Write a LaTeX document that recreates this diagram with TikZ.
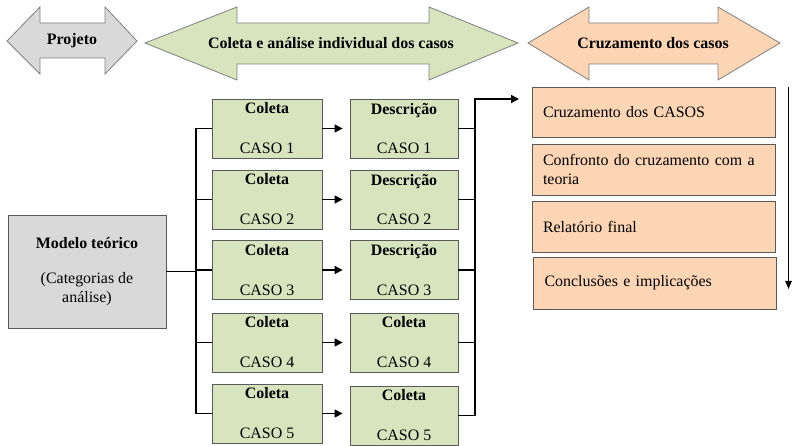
\documentclass[tikz,border=0pt]{standalone}
\usepackage{fontspec}
\setmainfont{Liberation Serif}
\usetikzlibrary{arrows.meta}
\definecolor{gfill}{HTML}{D9D9D9}
\definecolor{greenfill}{HTML}{D7E4BD}
\definecolor{orangefill}{HTML}{FCD5B5}
\definecolor{edgecol}{HTML}{595959}
\definecolor{arrowedge}{HTML}{7F7F7F}
\tikzset{
  bigarrow/.style={draw=arrowedge, line width=0.8bp, line join=miter},
  toptext/.style={font=\fontsize{16}{19}\selectfont\bfseries, inner sep=0pt},
  casebox/.style={draw=edgecol, line width=0.8bp, fill=greenfill, minimum height=59bp, align=center, inner sep=0pt, font=\fontsize{16}{19}\selectfont},
  colbox/.style={casebox, minimum width=110bp},
  descbox/.style={casebox, minimum width=108bp},
  modelbox/.style={draw=edgecol, line width=0.8bp, fill=gfill, minimum width=158bp, minimum height=113bp, align=center, inner sep=0pt, font=\fontsize{16}{18.5}\selectfont},
  crossbox/.style={draw=edgecol, line width=0.8bp, fill=orangefill, text width=221bp, inner xsep=11bp, inner ysep=0pt, align=left, font=\fontsize{16}{20}\selectfont},
  conn/.style={line width=1.3bp, black},
  arr/.style={conn, -{Triangle[length=8bp,width=8bp]}}
}
\begin{document}
\begin{tikzpicture}[x=1bp,y=-1bp]
\useasboundingbox (0,0) rectangle (792,446);
% top double arrows
\draw[bigarrow, fill=gfill] (7,41) -- (40,7) -- (40,23) -- (105,23) -- (105,7) -- (137,41) -- (105,74) -- (105,58) -- (40,58) -- (40,74) -- cycle;
\node[toptext] (projeto) at (72,41) {Projeto};
\draw[bigarrow, fill=greenfill] (145,43) -- (237,7) -- (237,23) -- (429,23) -- (429,7) -- (518,43) -- (429,80) -- (429,64) -- (237,64) -- (237,80) -- cycle;
\node[toptext] (coletaanalise) at (331,43) {Coleta e análise individual dos casos};
\draw[bigarrow, fill=orangefill] (528,43) -- (589,7) -- (589,23) -- (718,23) -- (718,7) -- (780,43) -- (718,80) -- (718,64) -- (589,64) -- (589,80) -- cycle;
\node[toptext] (cruzamento) at (653,43) {Cruzamento dos casos};
% model box
\node[modelbox] (modelo) at (87,271.5) {\textbf{Modelo teórico}\\[17bp](Categorias de\\análise)};
% coleta boxes
\node[colbox] (c1) at (267,128.5) {\textbf{Coleta}\\[21bp]CASO 1};
\node[colbox] (c2) at (267,199.5) {\textbf{Coleta}\\[21bp]CASO 2};
\node[colbox] (c3) at (267,270) {\textbf{Coleta}\\[21bp]CASO 3};
\node[colbox] (c4) at (267,342.5) {\textbf{Coleta}\\[21bp]CASO 4};
\node[colbox] (c5) at (267,413.5) {\textbf{Coleta}\\[21bp]CASO 5};
% description boxes
\node[descbox] (d1) at (404,128.5) {\textbf{Descrição}\\[21bp]CASO 1};
\node[descbox] (d2) at (404,199.5) {\textbf{Descrição}\\[21bp]CASO 2};
\node[descbox] (d3) at (404,270) {\textbf{Descrição}\\[21bp]CASO 3};
\node[descbox] (d4) at (404,342.5) {\textbf{Coleta}\\[21bp]CASO 4};
\node[descbox] (d5) at (404,415.5) {\textbf{Coleta}\\[21bp]CASO 5};
% cross-case boxes
\node[crossbox, minimum height=50bp] (x1) at (653.5,112) {Cruzamento dos CASOS};
\node[crossbox, minimum height=51bp] (x2) at (653.5,169.5) {Confronto do cruzamento com a\\teoria};
\node[crossbox, minimum height=51bp] (x3) at (653.5,226.5) {Relatório final};
\node[crossbox, minimum height=52bp] (x4) at (655,283) {Conclusões e implicações};
% connectors
\coordinate (trunkL) at (196,0);
\coordinate (trunkR) at (475,0);
\coordinate (toparr) at (519,99);
\coordinate (vtop) at (788.5,87);
\coordinate (vbot) at (788.5,289);
\draw[conn] (modelo.east) -- (modelo.east -| trunkL);
\draw[conn] (c1.west) -- (c1.west -| trunkL) -- (c5.west -| trunkL) -- (c5.west);
\foreach \i in {2,3,4} {\draw[conn] (c\i.west) -- (c\i.west -| trunkL);}
\foreach \i in {1,2,3,4,5} {\draw[arr, shorten >=7bp] (c\i.east) -- (c\i.east -| d\i.west);}
\foreach \i in {1,2,3,4} {\draw[conn] (d\i.east) -- (d\i.east -| trunkR);}
\draw[arr] (d5.east) -- (d5.east -| trunkR) |- (toparr);
\draw[line width=1bp, -{Triangle[length=8bp,width=6.5bp]}] (vtop) -- (vbot);
\end{tikzpicture}
\end{document}
